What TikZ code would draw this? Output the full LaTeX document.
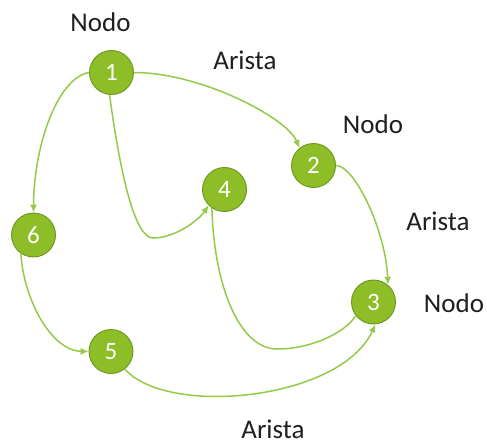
\documentclass[tikz,border=0pt]{standalone}
\usepackage{fontspec}
\setmainfont{Carlito}
\usetikzlibrary{arrows.meta}
\definecolor{nodefill}{RGB}{141,190,40}
\definecolor{nodeline}{RGB}{108,150,28}
\definecolor{edgecol}{RGB}{150,201,72}
\definecolor{labcol}{RGB}{30,30,30}
\begin{document}
\begin{tikzpicture}[x=1pt,y=-1pt,
  vertex/.style={circle,fill=nodefill,draw=nodeline,line width=0.9pt,minimum size=44pt,inner sep=0pt,text=white,font=\fontsize{25}{28}\selectfont},
  lab/.style={inner sep=0pt,text=labcol,font=\fontsize{27}{30}\selectfont},
  edge/.style={draw=edgecol,line width=1.5pt,-{Latex[length=8pt,width=7pt]}},
  plain/.style={draw=edgecol,line width=1.5pt}]
\useasboundingbox (0,0) rectangle (487,444);
\node[vertex] (n1) at (111.5,72.5) {1};
\node[vertex] (n2) at (313.5,165.5) {2};
\node[vertex] (n3) at (373.5,302) {3};
\node[vertex] (n4) at (224.5,189.5) {4};
\node[vertex] (n5) at (111,351.5) {5};
\node[vertex] (n6) at (33.5,235) {6};
\node[lab] (l1) at (100.5,22) {Nodo};
\node[lab] (l2) at (245,60) {Arista};
\node[lab] (l3) at (373,124) {Nodo};
\node[lab] (l4) at (438,221) {Arista};
\node[lab] (l5) at (454,303) {Nodo};
\node[lab] (l6) at (273,429) {Arista};
\coordinate (c14) at (153,238);
\coordinate (c43) at (277,349);
% 1 -> 2
\path[edge] (n1.east) .. controls +(67,0) and +(-12,-30) .. (n2.129);
% 1 -> 6
\path[edge] (n1.west) .. controls +(-33,6) and +(0,-63) .. (n6.north);
% 1 -> 4
\path[edge] (n1.265) .. controls +(11,81) and +(-18,0) .. (c14) .. controls +(22,0) and +(-10,15) .. (n4.225);
% 4 -- 3
\path[plain] (n4.236) .. controls +(2,79) and +(-37,0) .. (c43) .. controls +(33,0) and +(-12,18) .. (n3.218);
% 2 -> 3
\path[edge] (n2.east) .. controls +(19,0) and +(-2,-53) .. (n3.50);
% 6 -> 5
\path[edge] (n6.236) .. controls +(2,42) and +(-39,-1) .. (n5.west);
% 5 -> 3
\path[edge] (n5.-52) .. controls +(43,48) and +(-35,76) .. (n3.-85);
\end{tikzpicture}
\end{document}
